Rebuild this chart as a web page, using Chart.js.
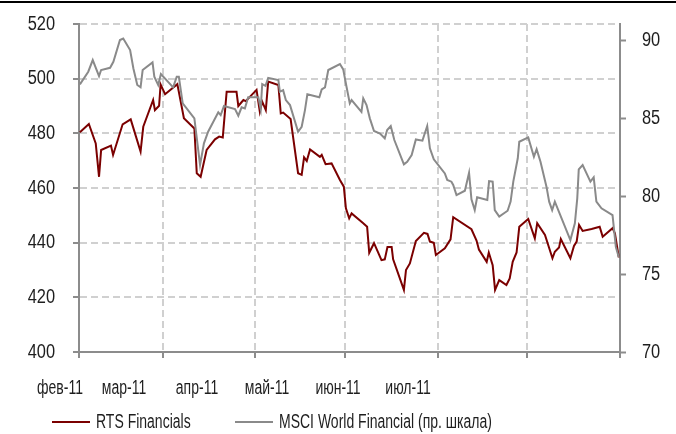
<!DOCTYPE html>
<html>
<head>
<meta charset="utf-8">
<script src="https://cdn.jsdelivr.net/npm/chart.js@4"></script>
<style>
  html, body { margin: 0; padding: 0; background: #fff; }
  canvas { display: block; }
</style>
</head>
<body>
<canvas id="chart" width="676" height="434"></canvas>
<script>
// RTS Financials vs MSCI World Financial, Feb-Jul 2011
// x = days since 1 Feb 2011
const monthLabels = ['фев-11', 'мар-11', 'апр-11', 'май-11', 'июн-11', 'июл-11'];
const monthStarts = [0, 28, 59, 89, 120, 150, 181];

const rtsDays = [0.3, 3.3, 5.6, 6.7, 7.4, 10.7, 11.4, 14.6, 17.3, 20.6, 21.5, 24.8, 25.4, 26.8, 27.3, 28.8, 32.9, 35.1, 38.6, 39.4,
  40.7, 42.7, 45.5, 46.9, 48.1, 49.4, 52.7, 53.3, 55.0, 55.8, 59.4, 60.5, 61.3, 62.5, 63.3, 66.7, 67.5, 68.3, 70.8, 73.3,
  74.5, 75.3, 76.2, 77.3, 80.6, 81.2, 82.5, 84.5, 87.3, 88.6, 89.3, 90.4, 91.2, 95.1, 96.4, 97.1, 98.7, 101.2, 102.3, 103.2,
  104.6, 105.1, 108.7, 109.4, 110.7, 112.7, 115.4, 116.6, 117.4, 118.7, 119.4, 122.4, 124.3, 125.2, 131.3, 133.0, 133.8, 136.4, 137.1, 138.4,
  139.2, 140.6, 143.0, 144.1, 145.1, 146.4, 147.3, 150.3, 152.5, 153.3, 155.9, 158.4, 159.2, 160.6, 161.2, 164.4, 165.6, 166.5, 167.3, 168.5,
  171.5, 174.2, 175.2, 178.5, 179.3, 180.6];
const rtsValues = [480.4, 483.4, 476.3, 464.1, 473.9, 475.5, 472.1, 483.3, 485.1, 473.3, 482.4, 492.2, 488.5, 490.1, 497.9, 494.3, 498.0, 485.5, 481.8, 465.4,
  464.1, 473.9, 477.8, 478.8, 478.5, 495.2, 495.2, 490.0, 492.2, 491.8, 495.9, 487.9, 491.6, 488.5, 498.9, 497.7, 487.3, 487.6, 485.2, 465.4,
  464.8, 471.2, 469.9, 474.1, 471.4, 472.1, 468.7, 469.0, 462.9, 460.5, 452.6, 448.9, 450.7, 447.1, 445.8, 436.3, 439.8, 433.6, 433.9, 438.4,
  438.4, 433.9, 422.7, 430.0, 432.4, 440.6, 443.6, 443.2, 440.4, 440.0, 435.5, 437.9, 441.2, 449.3, 444.9, 440.8, 437.5, 433.0, 436.4, 431.8,
  422.7, 426.3, 424.5, 426.9, 433.0, 436.4, 445.8, 448.7, 441.6, 447.1, 442.8, 434.3, 436.7, 438.2, 441.3, 434.3, 438.8, 440.4, 446.5, 444.3,
  445.0, 445.8, 442.2, 445.3, 443.4, 434.6];

const msciDays = [0.3, 3.1, 4.6, 6.7, 7.4, 10.4, 11.5, 13.7, 14.8, 17.1, 18.2, 19.5, 20.6, 21.3, 24.6, 25.2, 26.5, 27.4, 31.5, 32.7,
  33.4, 34.7, 38.6, 40.5, 41.8, 43.2, 46.6, 47.4, 48.5, 52.2, 53.3, 54.4, 55.5, 56.6, 60.0, 60.8, 61.3, 62.4, 63.3, 66.7,
  67.2, 68.3, 69.2, 70.6, 73.3, 74.5, 75.6, 76.4, 80.4, 81.2, 82.3, 83.4, 87.3, 88.4, 89.5, 90.6, 91.2, 94.5, 95.1, 96.2,
  97.3, 98.7, 100.7, 102.3, 103.1, 104.3, 105.5, 108.7, 109.8, 111.3, 112.7, 114.9, 116.5, 117.4, 118.7, 122.4, 123.2, 124.6, 125.2, 126.3,
  129.1, 130.5, 131.3, 132.4, 133.2, 136.6, 137.2, 138.4, 139.1, 140.6, 143.4, 144.4, 145.3, 146.8, 147.3, 150.3, 152.2, 153.1, 154.4, 156.4,
  157.3, 158.3, 159.2, 164.4, 165.9, 166.7, 167.2, 168.5, 171.1, 172.2, 173.1, 174.8, 178.5, 179.6, 180.6];
const msciValues = [87.16, 87.97, 88.72, 87.69, 88.08, 88.22, 88.61, 90.0, 90.1, 89.36, 88.18, 87.12, 86.97, 88.08, 88.57, 87.65, 87.12, 87.82, 86.97, 87.65,
  87.65, 85.94, 84.98, 81.99, 83.38, 84.12, 85.37, 85.19, 85.77, 85.58, 85.15, 85.69, 85.62, 86.33, 86.33, 85.58, 87.18, 87.07, 87.58, 87.44,
  86.69, 86.79, 86.15, 85.83, 84.12, 84.44, 85.51, 86.52, 86.33, 86.84, 86.97, 88.08, 88.46, 88.12, 87.01, 85.94, 86.15, 85.40, 86.26, 85.83,
  84.98, 84.17, 84.01, 83.70, 84.23, 84.49, 83.59, 82.03, 82.20, 82.63, 83.63, 83.55, 84.49, 83.06, 82.35, 81.45, 81.03, 80.92, 80.71, 80.06,
  80.34, 81.49, 79.79, 79.10, 79.92, 79.74, 80.96, 80.92, 79.10, 78.68, 79.06, 79.64, 80.92, 82.42, 83.48, 83.76, 82.52, 83.00, 82.20, 80.60,
  79.64, 79.10, 79.64, 77.18, 78.25, 79.85, 81.71, 81.99, 80.92, 81.20, 79.64, 79.21, 78.78, 76.75, 76.07];

const leftTicks = [400, 420, 440, 460, 480, 500, 520];
const rightTicks = [70, 75, 80, 85, 90];

// no Arial Narrow here, so squeeze Liberation Sans by hand
const FONT = "'Liberation Sans', Arial, sans-serif";
const FONT_SIZE = 20;
const SQUEEZE_DIGITS = 0.82;
const SQUEEZE_WORDS = 0.70;
const textColor = '#1e1e1e';
const axisColor = '#8c8c8c';
const gridColor = '#d0d0d0';

// month labels + legend sit where Excel put them, not under the gridlines
const monthLabelX = [60, 124, 197, 267, 338, 408];
const legendX = [52, 235];

function narrowText(ctx, text, x, y, align, squeeze) {
  ctx.save();
  ctx.translate(x, y);
  ctx.scale(squeeze, 1);
  ctx.textAlign = align;
  ctx.fillText(text, 0, 0);
  ctx.restore();
}

const textPlugin = {
  id: 'excelText',
  afterDraw(chart) {
    const ctx = chart.ctx;
    const yl = chart.scales.y;
    const yr = chart.scales.y2;
    ctx.save();
    ctx.font = FONT_SIZE + 'px ' + FONT;
    ctx.fillStyle = textColor;
    ctx.textBaseline = 'middle';

    yl.ticks.forEach(t => narrowText(ctx, String(t.value), yl.right - 24, yl.getPixelForValue(t.value), 'right', SQUEEZE_DIGITS));
    yr.ticks.forEach(t => narrowText(ctx, String(t.value), yr.left + 22, yr.getPixelForValue(t.value), 'left', SQUEEZE_DIGITS));

    monthLabels.forEach((t, i) => narrowText(ctx, t, monthLabelX[i], 388, 'center', SQUEEZE_WORDS));

    chart.data.datasets.forEach((ds, i) => {
      const x = legendX[i];
      ctx.strokeStyle = ds.borderColor;
      ctx.lineWidth = 2;
      ctx.beginPath();
      ctx.moveTo(x, 422);
      ctx.lineTo(x + 38, 422);
      ctx.stroke();
      narrowText(ctx, ds.label, x + 44, 422, 'left', SQUEEZE_WORDS);
    });

    // black rule at the very top
    ctx.fillStyle = '#000';
    ctx.fillRect(0, 1, chart.width, 2);
    ctx.restore();
  }
};

const toPoints = (xs, ys) => xs.map((x, i) => ({ x: x, y: ys[i] }));

new Chart(document.getElementById('chart'), {
  type: 'line',
  data: {
    datasets: [
      {
        label: 'RTS Financials',
        data: toPoints(rtsDays, rtsValues),
        borderColor: '#7b0000',
        borderWidth: 2,
        pointRadius: 0,
        tension: 0,
        yAxisID: 'y',
        order: 1
      },
      {
        label: 'MSCI World Financial (пр. шкала)',
        data: toPoints(msciDays, msciValues),
        borderColor: '#8a8a8a',
        borderWidth: 2,
        pointRadius: 0,
        tension: 0,
        yAxisID: 'y2',
        order: 0
      }
    ]
  },
  options: {
    responsive: false,
    animation: false,
    devicePixelRatio: 1,
    layout: { padding: { left: 7, right: 0, top: 24, bottom: 0 } },
    plugins: {
      legend: { display: false },
      tooltip: { enabled: false }
    },
    scales: {
      x: {
        type: 'linear',
        min: monthStarts[0],
        max: monthStarts[monthStarts.length - 1],
        afterBuildTicks: scale => { scale.ticks = monthStarts.map(v => ({ value: v })); },
        afterFit: scale => { scale.height = 82; },
        ticks: { display: false },
        grid: { color: gridColor, lineWidth: 2, tickLength: 6, tickColor: axisColor, tickWidth: 2 },
        border: { color: axisColor, width: 2, dash: [7, 4] }
      },
      y: {
        position: 'left',
        min: 400,
        max: 520,
        afterBuildTicks: scale => { scale.ticks = leftTicks.map(v => ({ value: v })); },
        afterFit: scale => { scale.width = 72; },
        ticks: { display: false },
        grid: { color: gridColor, lineWidth: 2, tickLength: 6, tickColor: axisColor, tickWidth: 2 },
        border: { color: axisColor, width: 2, dash: [7, 4] }
      },
      y2: {
        position: 'right',
        min: 70,
        max: 91.03,
        afterBuildTicks: scale => { scale.ticks = rightTicks.map(v => ({ value: v })); },
        afterFit: scale => { scale.width = 56; },
        ticks: { display: false },
        grid: { drawOnChartArea: false, tickLength: 6, tickColor: axisColor, tickWidth: 2 },
        border: { color: axisColor, width: 2 }
      }
    }
  },
  plugins: [textPlugin]
});
</script>
</body>
</html>
